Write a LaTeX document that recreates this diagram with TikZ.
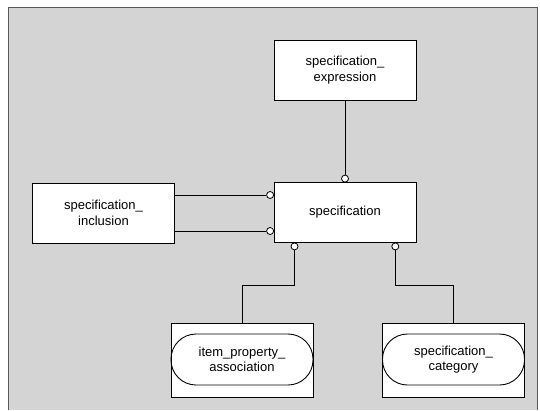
\documentclass[tikz,border=0pt]{standalone}
\usepackage{fontspec}
\setmainfont{Liberation Sans}
\begin{document}
\begin{tikzpicture}[x=1pt,y=-1pt, font=\fontsize{13}{15.5}\selectfont,
  ent/.style={draw, fill=white, line width=0.9pt, minimum width=142pt, minimum height=60pt, align=center, inner sep=0pt},
  dep/.style={draw, fill=white, line width=0.9pt, minimum width=142pt, minimum height=74pt, inner sep=0pt},
  stad/.style={draw, line width=0.9pt, rounded corners=25pt, minimum width=142pt, minimum height=51pt, align=center, inner sep=0pt},
  oc/.style={circle, draw, fill=white, line width=0.8pt, inner sep=0pt, minimum size=7pt},
  rel/.style={line width=0.9pt}]
\useasboundingbox (0,0) rectangle (540,410);
\fill[white] (0,0) rectangle (540,410);
\fill[black!17] (8,7) rectangle (537,410);
\draw[line width=0.8pt, black!65] (8,410) -- (8,7) -- (537,7) -- (537,410);

\node[ent] (expr) at (345,70) {specification\_\\expression};
\node[ent] (spec) at (345,212.5) {specification};
\node[ent] (incl) at (103.5,213) {specification\_\\inclusion};
\node[dep] (ipa) at (242,360) {};
\node[stad] (ipas) at (242,359.5) {item\_property\_\\association};
\node[dep] (cat) at (453.5,360) {};
\node[stad] (cats) at (453.5,359.5) {specification\_\\category};

% circles
\node[oc, anchor=south] (c1) at (345,182.5) {};
\node[oc, anchor=east] (c2) at (274,195) {};
\node[oc, anchor=east] (c3) at (274,231) {};
\node[oc, anchor=north] (c4) at (294.5,242.5) {};
\node[oc, anchor=north] (c5) at (395.3,242.5) {};
\coordinate (j4) at (294.5,285);
\coordinate (j5) at (395.3,285);
\coordinate (i2) at (174,195);
\coordinate (i3) at (174,231);

\draw[rel] (expr.south) -- (c1.north);
\draw[rel] (i2) -- (c2.west);
\draw[rel] (i3) -- (c3.west);
\draw[rel] (c4.south) -- (j4) -| (ipa.north);
\draw[rel] (c5.south) -- (j5) -| (cat.north);
\end{tikzpicture}
\end{document}
